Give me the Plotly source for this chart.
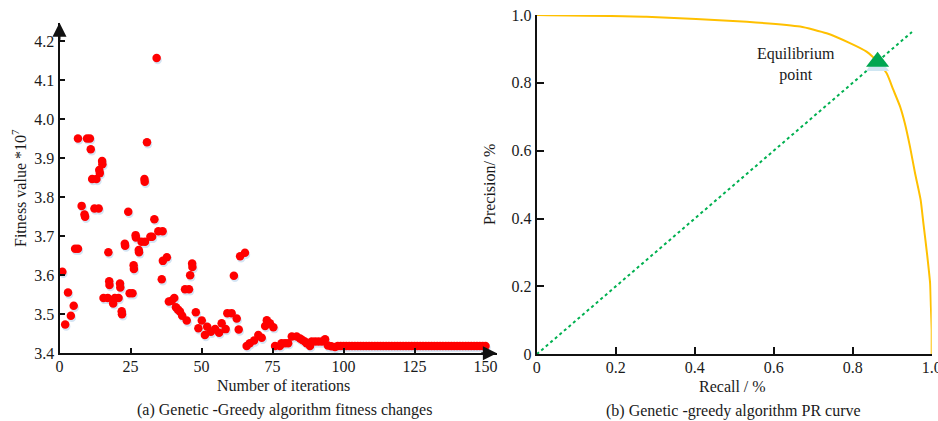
import plotly.graph_objects as go

W, H = 938, 421

# ---------------- data: (a) fitness per iteration ----------------
iterations = [
    1, 2, 3, 4, 5, 5.5, 6.5, 6.5, 7.8, 8.8, 9, 9.7, 10.7, 11, 11.5, 13, 12.3, 13.8,
    14, 14.2, 15, 15.1, 15.5, 17, 17.2, 17.5, 17.6, 18.9, 19.5, 20.8, 21.3, 21.4,
    21.9, 22, 23, 23.1, 24.2, 24.7, 25.7, 26.1, 26.2, 26.8, 26.9, 27.9, 28, 28.9,
    30.1, 29.9, 30, 30.8, 32, 32.6, 33.4, 34.2, 34.8, 36.3, 36, 36.4, 37.8, 38.5,
    39.5, 40.4, 41, 41.7, 42.4, 43.2, 44.8, 44.2, 45.6, 46, 46.7, 46.8, 48, 48.9,
    50.1, 51.2, 52, 53.3, 54.8, 56.2, 57.1, 58.5, 59.1, 60.6, 61.4, 62.4, 63.1,
    63.6, 65.3, 65.9, 67, 68.5, 70, 71.2, 72.4, 73, 74.1, 75.3, 75.9, 77.6, 78.2,
    79.4, 80.5, 81.8, 83.5, 84.7, 85.5, 86.4, 87, 88.2, 88.8, 90, 91.2, 92.4, 93.5,
    94.5, 95.7, 97,
    98, 99, 100, 101, 102, 103, 104, 105, 106, 107, 108, 109, 110, 111, 112, 113,
    114, 115, 116, 117, 118, 119, 120, 121, 122, 123, 124, 125, 126, 127, 128, 129,
    130, 131, 132, 133, 134, 135, 136, 137, 138, 139, 140, 141, 142, 143, 144, 145,
    146, 147, 148, 149, 150,
]
fitness = [
    3.609, 3.474, 3.556, 3.496, 3.522, 3.668, 3.668, 3.951, 3.778, 3.756, 3.750,
    3.951, 3.951, 3.923, 3.847, 3.847, 3.771, 3.771, 3.870, 3.862, 3.893, 3.885,
    3.542, 3.542, 3.659, 3.585, 3.575, 3.528, 3.542, 3.542, 3.579, 3.569, 3.508,
    3.500, 3.681, 3.676, 3.763, 3.554, 3.554, 3.626, 3.616, 3.703, 3.697, 3.665,
    3.659, 3.686, 3.686, 3.847, 3.840, 3.941, 3.699, 3.699, 3.744, 4.157, 3.713,
    3.713, 3.590, 3.637, 3.646, 3.533, 3.535, 3.542, 3.518, 3.512, 3.507, 3.496,
    3.484, 3.564, 3.564, 3.600, 3.630, 3.621, 3.505, 3.464, 3.484, 3.447, 3.468,
    3.455, 3.462, 3.453, 3.477, 3.462, 3.503, 3.503, 3.599, 3.489, 3.461, 3.649,
    3.658, 3.419, 3.426, 3.433, 3.447, 3.440, 3.470, 3.485, 3.477, 3.467, 3.419,
    3.419, 3.426, 3.426, 3.426, 3.443, 3.443, 3.438, 3.434, 3.430, 3.426, 3.419,
    3.430, 3.430, 3.430, 3.430, 3.436, 3.420, 3.418, 3.416,
    3.419, 3.419, 3.419, 3.419, 3.419, 3.419, 3.419, 3.419, 3.419, 3.419, 3.419,
    3.419, 3.419, 3.419, 3.419, 3.419, 3.419, 3.419, 3.419, 3.419, 3.419, 3.419,
    3.419, 3.419, 3.419, 3.419, 3.419, 3.419, 3.419, 3.419, 3.419, 3.419, 3.419,
    3.419, 3.419, 3.419, 3.419, 3.419, 3.419, 3.419, 3.419, 3.419, 3.419, 3.419,
    3.419, 3.419, 3.419, 3.419, 3.419, 3.419, 3.419, 3.419, 3.419,
]
a_xticks = [0, 25, 50, 75, 100, 125, 150]
a_yticks = [3.4, 3.5, 3.6, 3.7, 3.8, 3.9, 4.0, 4.1, 4.2]
a_yticktext = ["3.4", "3.5", "3.6", "3.7", "3.8", "3.9", "4.0", "4.1", "4.2"]

# ---------------- data: (b) PR curve ----------------
recall = [0.0, 0.278, 0.532, 0.667, 0.734, 0.793, 0.835, 0.863, 0.886, 0.903,
          0.920, 0.932, 0.945, 0.958, 0.972, 0.979, 0.989, 0.996, 0.998, 1.0, 1.0, 1.0]
precision = [1.0, 0.995, 0.980, 0.966, 0.946, 0.917, 0.892, 0.862, 0.828, 0.779,
             0.730, 0.681, 0.612, 0.533, 0.455, 0.386, 0.288, 0.209, 0.140, 0.072, 0.022, 0.0]
diag_x = [0.0, 0.95]
diag_y = [0.0, 0.95]
eq_recall = [0.863]
eq_precision = [0.862]
b_ticks = [0, 0.2, 0.4, 0.6, 0.8, 1.0]
b_ticktext = ["0", "0.2", "0.4", "0.6", "0.8", "1.0"]

# ---------------- layout helpers (pixel -> paper) ----------------
def px(x):
    return x / W

def py(y):
    return 1 - y / H

FONT = "Liberation Serif"
TXT = "#1a1a1a"
RED = "#ff0000"
SHADOW = "#d5e5f4"

fig = go.Figure()

# (a) shadow + points
fig.add_trace(go.Scatter(
    x=[v + 0.35 for v in iterations], y=[v - 0.005 for v in fitness],
    mode="markers", marker=dict(size=8.5, color=SHADOW, line=dict(width=0)),
    xaxis="x", yaxis="y", hoverinfo="skip", showlegend=False, cliponaxis=False))
fig.add_trace(go.Scatter(
    x=iterations, y=fitness, mode="markers",
    marker=dict(size=8.5, color=RED, line=dict(width=0)),
    xaxis="x", yaxis="y", showlegend=False, cliponaxis=False))

# (b) curve, diagonal, equilibrium point
fig.add_trace(go.Scatter(
    x=recall, y=precision, mode="lines",
    line=dict(color="#ffc000", width=2, shape="spline", smoothing=0.5),
    xaxis="x2", yaxis="y2", showlegend=False, cliponaxis=False))
fig.add_trace(go.Scatter(
    x=diag_x, y=diag_y, mode="lines", line=dict(color="#00b050", width=2, dash="dot"),
    xaxis="x2", yaxis="y2", showlegend=False))
fig.add_trace(go.Scatter(
    x=eq_recall, y=[v - 0.012 for v in eq_precision], mode="markers",
    marker=dict(symbol="triangle-up", size=20, color="#cfe6f2", line=dict(width=0)),
    xaxis="x2", yaxis="y2", showlegend=False, hoverinfo="skip"))
fig.add_trace(go.Scatter(
    x=eq_recall, y=eq_precision, mode="markers",
    marker=dict(symbol="triangle-up", size=20, color="#00a651", line=dict(width=0)),
    xaxis="x2", yaxis="y2", showlegend=False))

a_x0, a_unit = 59.5, 2.84
a_xmax = 154.0
a_ytop_px, a_ybot_px = 22.7, 353.3
a_ymax = 3.4 + (a_ybot_px - a_ytop_px) / 390.0

axis_common = dict(
    showgrid=False, zeroline=False, showline=True, linecolor="#111111", linewidth=2,
    ticks="inside", tickcolor="#111111", tickwidth=1.5, automargin=False,
    ticklabeloverflow="allow",
    tickfont=dict(family=FONT, size=16, color=TXT),
)

fig.update_layout(
    template="none",
    width=W, height=H, margin=dict(l=0, r=0, t=0, b=0, pad=0, autoexpand=False),
    paper_bgcolor="white", plot_bgcolor="white",
    font=dict(family=FONT, size=16, color=TXT),
    showlegend=False,
    xaxis=dict(domain=[px(a_x0), px(a_x0 + a_xmax * a_unit)], range=[0, a_xmax],
               tickvals=a_xticks, ticklen=5, anchor="y", ticklabelstandoff=-3, **axis_common),
    yaxis=dict(domain=[py(a_ybot_px), py(a_ytop_px)], range=[3.4, a_ymax],
               tickvals=a_yticks, ticktext=a_yticktext, ticklen=5, anchor="x",
               ticklabelstandoff=0, **axis_common),
    xaxis2=dict(domain=[px(536.7), px(931.7)], range=[0, 1], tickvals=b_ticks,
                ticktext=b_ticktext, ticklen=7, anchor="y2", ticklabelstandoff=-3, **axis_common),
    yaxis2=dict(domain=[py(354.3), py(15)], range=[0, 1], tickvals=b_ticks,
                ticktext=b_ticktext, ticklen=7, anchor="x2", ticklabelstandoff=0, **axis_common),
)

def label(x, y, text, angle=0):
    return dict(x=px(x), y=py(y), xref="paper", yref="paper", text=text,
                xanchor="center", yanchor="middle", textangle=angle, showarrow=False,
                align="center", font=dict(family=FONT, size=16, color=TXT))

ann = []
# axis arrows for (a)
ann.append(dict(x=0, y=a_ymax, ax=0, ay=4.2, xref="x", yref="y", axref="x", ayref="y",
                text="", showarrow=True, arrowhead=2, arrowsize=1.4, arrowwidth=2,
                arrowcolor="#111111", standoff=0))
ann.append(dict(x=a_xmax, y=3.4, ax=148, ay=3.4, xref="x", yref="y", axref="x", ayref="y",
                text="", showarrow=True, arrowhead=2, arrowsize=1.4, arrowwidth=2,
                arrowcolor="#111111", standoff=0))
ann.append(label(19, 188, "Fitness value *10<sup>7</sup>", -90))
ann.append(label(283, 385, "Number of iterations"))
ann.append(label(284, 410, "(a) Genetic -Greedy algorithm fitness changes"))
ann.append(label(489, 185, "Precision/ %", -90))
ann.append(label(732, 386, "Recall / %"))
ann.append(label(733, 411, "(b) Genetic -greedy algorithm PR curve"))
ann.append(label(796, 65, "Equilibrium<br>point"))
fig.update_layout(annotations=ann)

fig.write_html("out.html", config={"displayModeBar": False},
               post_script="document.body.style.margin='0';")
